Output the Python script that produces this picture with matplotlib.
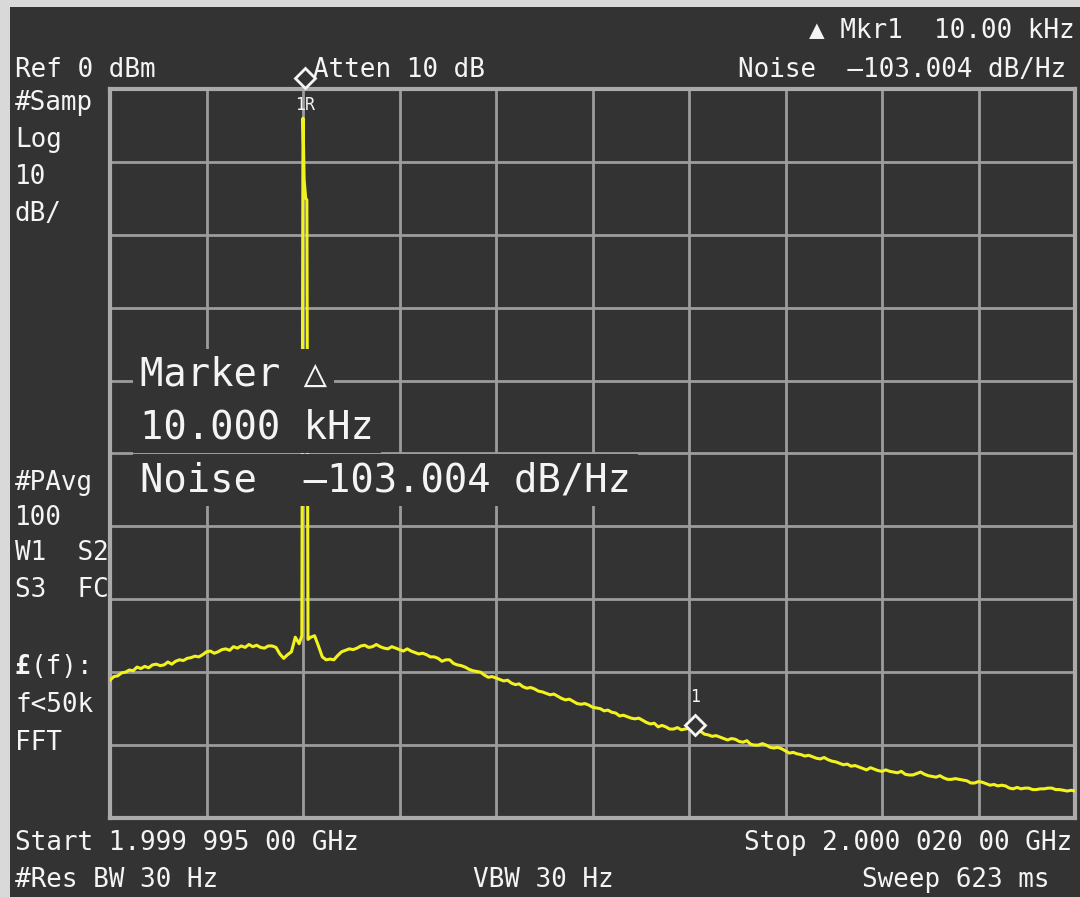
import numpy as np
import matplotlib.pyplot as plt
from matplotlib.patches import Rectangle

# sweep settings (kHz offset from start frequency, dBm)
span_khz = 25.0
ref_dbm = 0.0
db_per_div = 10.0

# trace read every 0.1 kHz from start (carrier sits at 5.0 kHz)
trace_dbm = [
    -81.1, -80.6, -80.5, -80.1, -80.0, -79.7, -79.8, -79.3, -79.5, -79.2,
    -79.4, -79.0, -78.9, -79.1, -79.0, -78.6, -78.9, -78.5, -78.3, -78.4,
    -78.1, -78.0, -77.8, -77.9, -77.6, -77.2, -77.1, -77.4, -77.2, -76.9,
    -76.8, -77.0, -76.5, -76.7, -76.4, -76.6, -76.2, -76.5, -76.3, -76.6,
    -76.7, -76.4, -76.4, -76.6, -77.5, -78.1, -77.6, -77.2, -75.2, -76.1,
    -4.0, -15.2, -75.2, -75.0, -76.4, -77.9, -78.3, -78.2, -78.3, -77.7,
    -77.2, -77.0, -76.8, -76.9, -76.7, -76.4, -76.3, -76.6, -76.5, -76.2,
    -76.5, -76.7, -76.8, -76.5, -76.7, -76.9, -77.1, -76.8, -77.1, -77.3,
    -77.5, -77.4, -77.6, -77.9, -77.9, -78.1, -78.5, -78.3, -78.3, -78.8,
    -79.0, -79.1, -79.3, -79.6, -79.8, -79.9, -80.0, -80.4, -80.7, -80.6,
    -80.8, -81.0, -81.2, -81.1, -81.5, -81.7, -81.6, -82.0, -82.2, -82.1,
    -82.3, -82.6, -82.7, -82.9, -83.1, -83.0, -83.3, -83.6, -83.8, -83.7,
    -84.0, -84.3, -84.4, -84.3, -84.5, -84.8, -84.9, -85.0, -85.3, -85.2,
    -85.5, -85.6, -86.0, -85.9, -86.1, -86.3, -86.4, -86.3, -86.6, -86.9,
    -87.1, -87.0, -87.5, -87.3, -87.5, -87.8, -87.8, -87.6, -87.9, -87.8,
    -87.7, -88.0, -88.2, -88.1, -88.5, -88.6, -88.8, -88.7, -88.9, -89.1,
    -89.3, -89.1, -89.2, -89.5, -89.6, -89.4, -89.9, -90.0, -90.0, -89.8,
    -90.0, -90.3, -90.4, -90.3, -90.5, -90.8, -91.1, -91.0, -91.2, -91.3,
    -91.5, -91.4, -91.6, -91.8, -91.9, -91.7, -92.0, -92.2, -92.3, -92.5,
    -92.7, -92.6, -92.9, -92.8, -93.0, -93.2, -93.4, -93.1, -93.3, -93.5,
    -93.6, -93.4, -93.6, -93.7, -93.8, -93.6, -94.0, -94.1, -94.1, -93.9,
    -93.7, -94.0, -94.2, -94.3, -94.4, -94.2, -94.5, -94.7, -94.7, -94.6,
    -94.7, -94.8, -94.9, -95.2, -95.2, -95.0, -95.1, -95.3, -95.5, -95.4,
    -95.6, -95.5, -95.6, -95.9, -96.0, -95.8, -96.0, -95.9, -95.9, -96.1,
    -96.1, -96.0, -96.0, -95.9, -95.9, -96.1, -96.1, -96.2, -96.3, -96.2,
    -96.3,
]
# extra samples on the carrier edges
spike_khz = [4.97, 5.03, 5.07, 5.13]
spike_dbm = [-75.0, -12.5, -15.0, -75.5]

# markers
ref_mkr_khz, ref_mkr_dbm = 5.05, 1.5
delta_mkr_khz, delta_mkr_dbm = 15.0, -87.2

BG = '#333333'
GRID = '#9c9c9c'
YEL = '#f2f21e'
WHITE = '#f4f4f4'
W, H = 1080, 897

plt.rcParams['font.family'] = ['DejaVu Sans Mono', 'DejaVu Sans']

fig = plt.figure(figsize=(W / 100, H / 100), dpi=100, facecolor='#d9d9d9')
fig.patches.append(Rectangle((10 / W, 0), 1 - 10 / W, 1 - 7 / H, transform=fig.transFigure,
                             facecolor=BG, edgecolor='none', zorder=-10))

ax = fig.add_axes([110 / W, 1 - 818 / H, 965 / W, 729 / H])
ax.set_zorder(1)
ax.set_facecolor(BG)
ax.set_xlim(0, span_khz)
ax.set_ylim(ref_dbm - 10 * db_per_div, ref_dbm)
ax.set_xticks(np.arange(0, span_khz + 0.01, span_khz / 10))
ax.set_yticks(np.arange(ref_dbm - 10 * db_per_div, ref_dbm + 0.01, db_per_div))
ax.tick_params(length=0, labelbottom=False, labelleft=False)
ax.grid(True, color=GRID, lw=2)
ax.set_axisbelow(True)
for s in ax.spines.values():
    s.set_color('#aaaaaa')
    s.set_linewidth(3)

freq = np.round(np.arange(len(trace_dbm)) * 0.1, 2)
f_all = np.concatenate([freq, spike_khz])
d_all = np.concatenate([trace_dbm, spike_dbm])
order = np.argsort(f_all, kind='stable')
ax.plot(f_all[order], d_all[order], color=YEL, lw=2.2, zorder=3)

# marker diamonds
ax.plot([ref_mkr_khz], [ref_mkr_dbm], marker='D', ms=10, mfc=BG, mec=WHITE, mew=2,
        clip_on=False, zorder=6)
ax.text(ref_mkr_khz, ref_mkr_dbm - 3.7, '1R', color=WHITE, fontsize=12, ha='center', va='center',
        zorder=6)
ax.plot([delta_mkr_khz + 0.15], [delta_mkr_dbm], marker='D', ms=10, mfc=BG, mec=WHITE, mew=2,
        zorder=6)
ax.text(delta_mkr_khz + 0.15, delta_mkr_dbm + 3.8, '1', color=WHITE, fontsize=12,
        ha='center', va='center', zorder=6)


def ftext(x, y, s, size=18.7, ha='left', **kw):
    fig.text(x / W, 1 - y / H, s, color=WHITE, fontsize=size, ha=ha, va='center', **kw)


ftext(1075, 30, '\u25b2 Mkr1  10.00 kHz', ha='right')
ftext(1066, 70, 'Noise  \u2013103.004 dB/Hz', ha='right')
ftext(15, 70, 'Ref 0 dBm')
ftext(313, 70, 'Atten 10 dB')

left_col = [(103, '#Samp'), (140, 'Log'), (177, '10'), (214, 'dB/'),
            (483, '#PAvg'), (518, '100'), (553, 'W1  S2'), (590, 'S3  FC'),
            (705, 'f<50k'), (743, 'FFT')]
for y, s in left_col:
    ftext(15, y, s)
ftext(15, 667, '\u00a3', fontweight='bold')
ftext(31, 667, '(f):')

ftext(15, 843, 'Start 1.999 995 00 GHz')
ftext(1072, 843, 'Stop 2.000 020 00 GHz', ha='right')
ftext(15, 880, '#Res BW 30 Hz')
ftext(473, 880, 'VBW 30 Hz')
ftext(1050, 880, 'Sweep 623 ms', ha='right')

big = [(375, 'Marker \u25b3'), (427, '10.000 kHz'), (480, 'Noise  \u2013103.004 dB/Hz')]
for y, s in big:
    fig.text(140 / W, 1 - y / H, s, color=WHITE, fontsize=28, ha='left', va='center', zorder=10,
             bbox=dict(facecolor=BG, edgecolor='none', pad=5))

fig.savefig('out.png', dpi=100, facecolor=fig.get_facecolor())
